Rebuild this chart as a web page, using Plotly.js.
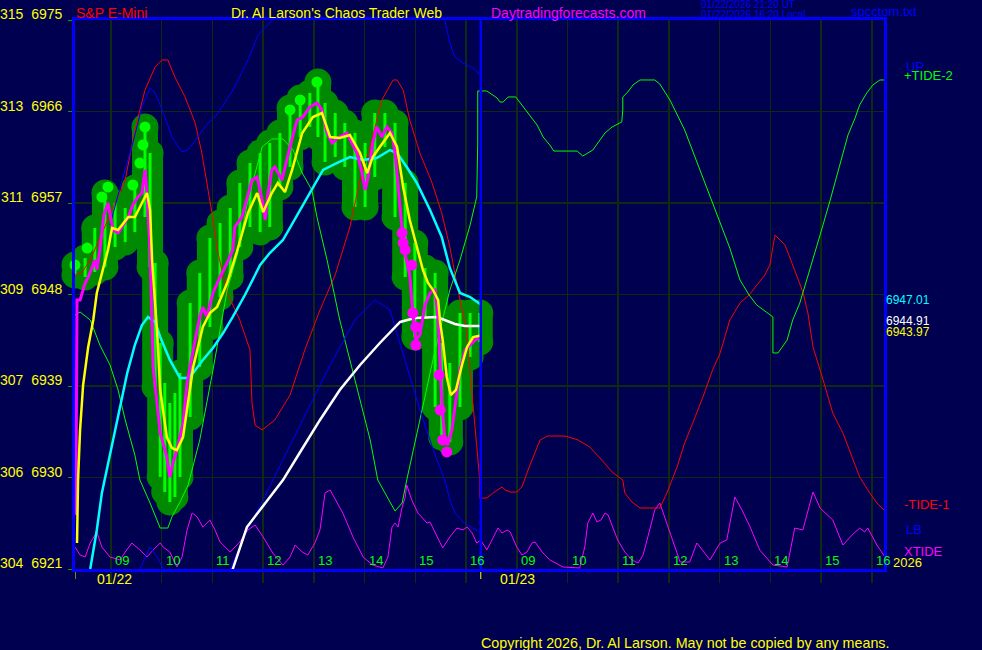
<!DOCTYPE html>
<html><head><meta charset="utf-8">
<script src="https://cdn.plot.ly/plotly-3.0.1.min.js"></script>
<style>html,body{margin:0;padding:0;background:#000050;}#chart{width:982px;height:650px;}</style>
</head><body><div id="chart"></div>
<script>
// ---------- axis data ----------
const hourTicks = [9,10,11,12,13,14,15,16,17,18,19,20,21,22,23,24];
const hourText  = ['09','10','11','12','13','14','15','16','09','10','11','12','13','14','15','16'];
const priceTicks = [6975,6966,6957,6948,6939,6930,6921];
const tideTicks  = ['315','313','311','309','307','306','304'];
const nowH = 16.29;
const dayStarts = [8.29, 16.29];
const dayLabels = ['01/22','01/23'];
const lastVals = ['6947.01','6944.91','6943.97'];

// ---------- price bars (blob) ----------
const barH  = [8.29,8.49,8.68,8.88,9.08,9.28,9.47,9.67,9.77,9.87,9.97,10.06,10.16,10.26,10.36,10.56,10.75,10.95,11.15,11.35,11.54,11.74,11.94,12.13,12.33,12.53,12.73,12.92,13.08,13.22,13.42,13.61,13.81,14.01,14.20,14.40,14.60,14.80,14.99,15.19,15.39,15.52,15.68,15.88,16.08,16.27];
const barHi = [6950.90,6951.59,6954.54,6957.98,6957.00,6956.51,6958.48,6964.48,6961.92,6951.10,6943.23,6939.30,6937.33,6938.31,6940.28,6947.16,6950.11,6953.56,6955.03,6956.51,6958.97,6960.93,6961.92,6962.90,6963.89,6966.34,6967.33,6967.82,6968.90,6966.84,6965.85,6964.87,6963.89,6962.90,6965.85,6965.85,6964.87,6958.97,6953.07,6950.61,6950.11,6943.23,6941.26,6946.18,6946.18,6946.18];
const barLo = [6949.92,6949.72,6950.21,6950.70,6952.67,6953.16,6954.15,6955.62,6950.70,6938.90,6930.05,6928.57,6927.59,6928.08,6930.05,6935.95,6940.87,6944.80,6947.75,6949.72,6952.67,6954.64,6954.15,6954.64,6958.57,6960.54,6963.49,6964.48,6963.49,6961.03,6961.52,6960.54,6956.61,6956.61,6959.56,6962.51,6955.62,6949.72,6943.82,6945.79,6936.93,6933.98,6933.49,6936.93,6941.85,6943.33];
const dotH = [8.29,8.53,8.82,8.94,9.43,9.57,9.63,9.67,12.53,12.73,13.06];
const dotP = [6950.90,6952.57,6957.59,6958.57,6958.77,6960.93,6962.71,6964.48,6966.15,6967.13,6968.90];

// ---------- price line (magenta) ----------
const priceH = [8.31,8.31,8.33,8.39,8.49,8.55,8.63,8.68,8.72,8.78,8.86,8.94,9.04,9.14,9.24,9.34,9.43,9.53,9.61,9.67,9.71,9.73,9.77,9.83,9.91,9.97,10.10,10.16,10.22,10.30,10.42,10.50,10.62,10.75,10.81,10.89,11.01,11.15,11.29,11.40,11.44,11.58,11.70,11.78,11.88,11.98,12.04,12.09,12.17,12.23,12.37,12.49,12.53,12.63,12.67,12.78,12.92,13.06,13.16,13.26,13.36,13.47,13.65,13.75,13.85,13.95,14.01,14.07,14.16,14.24,14.34,14.44,14.54,14.60,14.66,14.74,14.80,14.89,14.95,15.01,15.09,15.19,15.29,15.39,15.45,15.49,15.52,15.58,15.64,15.72,15.80,15.88,15.98,16.08,16.18,16.29];
const priceP = [6926.31,6929.75,6947.46,6947.46,6949.13,6949.72,6950.70,6951.39,6950.41,6952.38,6955.82,6957.00,6954.34,6954.05,6954.84,6955.62,6956.80,6957.59,6957.98,6960.25,6957.98,6956.02,6952.38,6940.87,6937.33,6934.38,6932.02,6930.05,6931.43,6932.70,6935.36,6939.30,6942.54,6945.79,6946.77,6945.79,6948.15,6949.72,6951.10,6952.38,6954.64,6955.62,6957.79,6959.26,6959.56,6957.30,6955.33,6957.79,6960.25,6960.54,6959.26,6961.52,6962.51,6964.48,6965.16,6965.46,6966.44,6966.84,6966.15,6963.89,6962.90,6963.39,6963.89,6962.90,6961.92,6959.95,6958.28,6959.56,6962.90,6964.48,6963.49,6964.48,6963.89,6961.92,6958.57,6954.34,6951.89,6949.92,6946.18,6943.52,6944.02,6946.97,6948.15,6948.44,6945.49,6941.56,6937.62,6933.69,6933.20,6934.67,6937.62,6940.57,6942.54,6943.03,6943.52,6943.82];
const bigDotH = [14.74,14.76,14.80,14.93,14.95,15.01,15.01,15.47,15.49,15.54,15.62];
const bigDotP = [6954.05,6953.07,6952.38,6950.90,6946.18,6944.80,6943.03,6940.08,6936.64,6933.69,6932.51];

// ---------- yellow average ----------
const yelH = [8.33,8.35,8.39,8.45,8.55,8.65,8.72,8.84,8.94,9.02,9.14,9.34,9.47,9.57,9.71,9.77,9.81,9.91,9.97,10.10,10.20,10.30,10.42,10.62,10.81,10.95,11.09,11.29,11.48,11.70,11.88,12.00,12.17,12.29,12.43,12.57,12.77,12.98,13.16,13.32,13.51,13.71,13.91,14.05,14.16,14.30,14.50,14.64,14.76,14.89,15.03,15.15,15.25,15.35,15.45,15.49,15.54,15.58,15.62,15.70,15.80,15.92,16.02,16.14,16.29];
const yelP = [6923.56,6929.75,6934.67,6939.10,6942.84,6945.49,6948.15,6950.41,6952.38,6954.54,6954.34,6955.62,6955.62,6956.61,6957.98,6956.31,6951.39,6944.21,6938.61,6933.98,6932.90,6932.70,6933.98,6940.87,6944.80,6946.18,6946.77,6949.13,6952.18,6956.02,6957.98,6956.11,6957.98,6958.97,6958.08,6960.25,6963.89,6965.46,6965.85,6963.49,6963.39,6963.69,6961.92,6959.95,6961.52,6962.51,6963.89,6962.51,6958.57,6955.33,6952.67,6950.41,6949.13,6948.44,6947.46,6945.20,6943.52,6941.56,6939.89,6938.11,6938.61,6941.07,6942.84,6943.82,6943.97];

// ---------- cyan average ----------
const cyanH = [8.59,8.72,8.82,8.98,9.18,9.32,9.47,9.61,9.73,9.87,9.97,10.16,10.36,10.50,10.62,10.81,11.01,11.21,11.40,11.64,11.94,12.13,12.39,12.73,12.98,13.18,13.45,13.71,13.97,14.24,14.50,14.64,14.83,15.03,15.29,15.52,15.68,15.88,16.08,16.29];
const cyanP = [6921.00,6924.84,6928.48,6932.21,6937.13,6940.28,6943.03,6945.00,6945.79,6945.30,6943.82,6941.56,6939.79,6939.79,6940.28,6941.56,6942.74,6944.21,6945.79,6947.95,6950.90,6952.08,6953.36,6956.31,6958.57,6960.25,6960.93,6961.52,6961.23,6961.43,6962.21,6961.92,6960.54,6958.97,6956.31,6953.66,6950.61,6948.15,6947.75,6947.01];

// ---------- white average ----------
const whiteH = [11.37,11.40,11.68,12.08,12.39,12.73,13.12,13.51,13.91,14.30,14.70,14.99,15.43,15.78,15.98,16.29];
const whiteP = [6920.41,6921.00,6925.13,6927.79,6929.75,6932.51,6935.66,6938.61,6941.07,6943.23,6945.30,6945.69,6945.79,6945.10,6944.90,6944.91];

// ---------- -TIDE-1 (red) ----------
const redH = [8.29,8.43,8.59,8.94,9.28,9.47,9.67,9.87,10.01,10.12,10.26,10.46,10.66,10.79,10.91,10.99,11.11,11.29,11.54,11.74,11.78,11.84,11.98,12.23,12.53,12.82,13.12,13.42,13.51,13.71,13.91,14.11,14.34,14.56,14.64,14.76,14.89,15.09,15.33,15.52,15.68,15.88,16.02,16.08,16.20,16.27,16.27,16.41,16.53,16.71,16.77,16.87,17.00,17.10,17.26,17.46,17.61,17.95,18.21,18.44,18.64,18.88,19.09,19.13,19.27,19.43,19.82,19.96,20.16,20.31,20.47,20.67,20.86,21.01,21.20,21.40,21.58,21.73,21.89,21.99,22.09,22.29,22.48,22.64,22.74,22.84,23.04,23.23,23.43,23.61,23.76,23.96,24.10,24.24];
const redP = [6949.92,6950.21,6951.39,6955.33,6959.26,6964.18,6968.11,6970.38,6971.07,6971.07,6969.39,6967.43,6964.87,6961.92,6958.57,6956.02,6952.08,6948.15,6945.49,6942.54,6937.33,6935.16,6934.67,6935.66,6938.11,6942.54,6946.48,6949.92,6951.39,6954.64,6959.26,6962.51,6967.13,6969.10,6969.10,6968.11,6965.16,6961.92,6958.97,6956.02,6952.67,6947.46,6944.21,6940.28,6933.69,6929.75,6927.98,6927.98,6928.48,6929.07,6928.77,6928.57,6928.57,6929.07,6931.23,6933.69,6934.08,6934.08,6933.69,6933.00,6931.92,6930.54,6929.75,6928.48,6927.59,6927.00,6927.00,6928.48,6931.03,6933.39,6935.36,6937.92,6940.57,6942.25,6945.49,6947.16,6947.95,6948.93,6949.92,6950.90,6953.85,6952.87,6950.41,6948.25,6946.18,6942.84,6939.59,6936.34,6934.38,6932.02,6930.05,6928.48,6927.49,6926.80];

// ---------- +TIDE-2 (green) ----------
const grnH = [8.29,8.39,8.59,8.78,8.98,9.14,9.28,9.47,9.57,9.77,9.97,10.12,10.20,10.36,10.52,10.75,11.01,11.29,11.50,11.70,11.98,12.17,12.39,12.59,12.77,12.96,13.06,13.26,13.51,13.81,14.11,14.26,14.60,14.74,14.83,15.09,15.39,15.68,15.88,16.08,16.21,16.23,16.23,16.41,16.61,16.67,16.73,16.83,16.98,17.10,17.22,17.40,17.52,17.65,17.73,18.19,18.30,18.50,18.64,18.74,18.88,19.07,19.09,19.09,19.19,19.29,19.43,19.72,19.82,20.02,20.31,20.61,20.91,21.20,21.40,21.58,21.73,21.99,22.05,22.05,22.15,22.33,22.44,22.58,22.72,22.98,23.18,23.37,23.53,23.67,23.76,23.90,24.02,24.16,24.24];
const grnP = [6945.98,6946.28,6945.49,6943.03,6941.07,6938.61,6935.66,6932.21,6929.75,6927.49,6925.03,6925.03,6926.11,6927.59,6929.26,6933.69,6940.57,6948.44,6952.08,6957.30,6962.51,6963.30,6963.30,6962.21,6959.95,6958.28,6955.62,6951.39,6945.49,6939.59,6933.69,6929.75,6926.70,6927.49,6929.75,6935.66,6942.54,6948.44,6951.39,6954.84,6957.59,6962.90,6968.02,6968.02,6967.33,6966.93,6966.93,6967.43,6967.43,6966.64,6965.85,6964.67,6963.49,6962.71,6962.11,6962.11,6961.62,6962.21,6963.20,6963.89,6964.48,6964.97,6966.15,6967.43,6967.92,6968.61,6969.10,6969.10,6968.70,6967.13,6964.18,6960.25,6956.31,6952.57,6949.43,6947.95,6946.97,6945.98,6945.79,6942.25,6942.25,6943.52,6945.49,6947.16,6949.43,6953.85,6957.30,6960.74,6963.69,6965.36,6966.64,6967.82,6968.61,6969.10,6969.10];

// ---------- LB (blue) segments ----------
const lbAH = [8.98,9.08,9.22,9.41,9.61,9.77,9.87,10.01,10.20,10.40,10.52,10.71,10.91,11.05,11.19,11.44,11.70,11.90,12.09,12.19,12.33];
const lbAP = [6954.84,6956.80,6959.26,6962.51,6966.44,6968.31,6967.82,6966.15,6963.49,6962.02,6962.21,6963.49,6964.87,6965.46,6966.44,6968.41,6971.07,6973.52,6974.51,6975.00,6975.79];
const lbBH = [15.49,15.58,15.68,15.78,15.94,16.14,16.29];
const lbBP = [6975.98,6975.00,6972.74,6971.36,6970.77,6970.28,6969.49];
const lbCH = [9.51,9.57,9.77,9.91,10.03,10.08];
const lbCP = [6920.41,6921.00,6923.16,6922.18,6921.00,6920.41];
const lbDH = [11.31,11.40,11.68,12.00,12.19,12.73,13.32,13.81,14.20,14.50,14.80,15.09,15.39,15.58,15.68,15.78,15.94,16.14,16.29];
const lbDP = [6920.41,6921.59,6924.84,6927.79,6929.75,6935.16,6941.07,6945.49,6947.46,6946.48,6941.56,6936.64,6932.21,6929.75,6927.79,6926.51,6925.62,6925.03,6924.54];

// ---------- XTIDE (magenta, bottom) ----------
const xtH = [8.29,8.39,8.49,8.59,8.72,8.82,8.98,9.18,9.28,9.41,9.57,9.71,9.83,9.97,10.03,10.16,10.30,10.40,10.50,10.60,10.70,10.81,10.95,11.05,11.15,11.35,11.54,11.70,11.84,12.00,12.19,12.39,12.53,12.63,12.77,12.88,13.02,13.12,13.22,13.32,13.57,13.77,13.97,14.16,14.36,14.46,14.54,14.60,14.66,14.74,14.80,14.83,14.93,15.05,15.23,15.29,15.49,15.54,15.68,15.82,15.94,16.02,16.12,16.21,16.29,16.41,16.53,16.63,16.71,16.81,16.87,17.00,17.10,17.20,17.30,17.36,17.50,17.65,17.91,18.24,18.34,18.40,18.50,18.58,18.66,18.74,18.80,18.88,18.99,19.13,19.27,19.39,19.49,19.62,19.72,19.82,19.92,20.02,20.22,20.41,20.55,20.81,21.01,21.14,21.30,21.44,21.60,21.79,22.05,22.33,22.48,22.64,22.84,22.98,23.23,23.43,23.61,23.76,23.86,23.92,24.10,24.26];
const xtP = [6923.16,6922.38,6922.18,6923.56,6924.64,6923.16,6922.18,6921.89,6922.67,6923.56,6922.87,6922.18,6922.87,6923.56,6923.16,6922.67,6921.20,6922.18,6924.84,6926.51,6926.11,6925.13,6925.82,6924.84,6923.66,6922.67,6923.66,6924.84,6925.33,6924.15,6922.57,6921.39,6922.18,6923.36,6922.67,6922.38,6923.56,6924.84,6928.48,6928.77,6926.51,6924.15,6922.18,6921.39,6921.10,6922.18,6925.13,6925.52,6925.13,6927.10,6928.08,6929.26,6927.79,6926.51,6925.52,6925.62,6923.56,6923.07,6924.15,6925.03,6924.84,6925.13,6924.54,6923.56,6923.85,6922.87,6924.05,6925.03,6924.54,6924.84,6924.64,6923.16,6922.38,6922.67,6923.56,6923.66,6922.67,6921.89,6921.20,6921.10,6923.16,6925.52,6926.51,6925.62,6925.82,6926.51,6926.31,6925.33,6923.85,6922.67,6921.89,6921.59,6922.38,6924.84,6926.80,6927.49,6926.02,6924.54,6921.69,6921.69,6923.56,6921.89,6923.56,6923.85,6928.08,6926.80,6925.13,6922.87,6921.39,6921.20,6925.03,6924.84,6928.57,6927.00,6925.82,6923.36,6924.34,6925.03,6924.64,6925.03,6923.36,6922.18];

// ---------- build ----------
function segs(xs, a, b) {
  const x = [], y = [];
  for (let i = 0; i < xs.length; i++) { x.push(xs[i], xs[i], null); y.push(a[i], b[i], null); }
  return {x, y};
}
const band = segs(barH, barHi, barLo);
const line = (x, y, color, width) => ({x, y, type:'scatter', mode:'lines', line:{color, width}, hoverinfo:'skip'});

const traces = [
  line(xtH, xtP, '#ff00ff', 1),
  {x: band.x, y: band.y, type:'scatter', mode:'lines', line:{color:'#008a00', width:26}, hoverinfo:'skip'},
  {x: barH.concat(barH), y: barHi.concat(barLo), type:'scatter', mode:'markers', cliponaxis:false, marker:{color:'#008a00', size:27, line:{width:0}}, hoverinfo:'skip'},
  {x: band.x, y: band.y, type:'scatter', mode:'lines', line:{color:'#00ff00', width:3}, hoverinfo:'skip'},
  {x: dotH, y: dotP, type:'scatter', mode:'markers', cliponaxis:false, marker:{color:'#00ff00', size:11, line:{width:0}}, hoverinfo:'skip'},
  line(redH, redP, '#ff0000', 1),
  line(grnH, grnP, '#00ff00', 1),
  line(lbAH, lbAP, '#0000ff', 1),
  line(lbBH, lbBP, '#0000ff', 1),
  line(lbCH, lbCP, '#0000ff', 1),
  line(lbDH, lbDP, '#0000ff', 1),
  line(whiteH, whiteP, '#ffffff', 2.5),
  line(cyanH, cyanP, '#00ffff', 2.5),
  line(priceH, priceP, '#ff00ff', 3),
  {x: bigDotH, y: bigDotP, type:'scatter', mode:'markers', marker:{color:'#ff00ff', size:11, line:{width:0}}, hoverinfo:'skip'},
  line(yelH, yelP, '#ffff00', 2.5)
];

const W = 982, H = 650, L = 75, R = 884, T = 20, B = 569;
const px = x => (x - L) / (R - L);
const py = y => (B - y) / (B - T);
const FONT = 'Liberation Sans, Arial, sans-serif';
function ann(text, x, y, color, size, xanchor) {
  return {text, x: px(x), y: py(y), xref:'paper', yref:'paper', showarrow:false,
          xanchor: xanchor || 'left', yanchor:'middle', font:{family:FONT, size, color}};
}
const annotations = [
  ann('S&amp;P E-Mini', 74, 13, '#ff0000', 14),
  ann("Dr. Al Larson's Chaos Trader Web", 229, 13, '#ffff00', 14),
  ann('Daytradingforecasts.com', 489, 13, '#ff00ff', 14),
  ann('01/22/2026 21:20 UT', 699, 5, '#0000ff', 10),
  ann('01/22/2026 16:20 Local', 699, 15, '#0000ff', 10),
  ann('spcctom.txt', 849, 12, '#0000ff', 13),
  ann('UP', 904, 67, '#0000ff', 13),
  ann('+TIDE-2', 902, 76, '#00ff00', 13),
  ann('-TIDE-1', 902, 505, '#ff0000', 13),
  ann('LB', 904, 529, '#0000ff', 13),
  ann('XTIDE', 902, 551, '#ff00ff', 13),
  ann(lastVals[0], 884, 300, '#00ffff', 12),
  ann(lastVals[1], 884, 321, '#ffffff', 12),
  ann(lastVals[2], 884, 332, '#ffff00', 12),
  ann('Copyright 2026, Dr. Al Larson. May not be copied by any means.', 479, 643, '#ffff00', 14.3)
];
priceTicks.forEach((v, i) => {
  annotations.push({text: tideTicks[i] + '\u00a0\u00a0' + v, x: 0, y: v, xref:'paper', yref:'y', xshift:-11,
    showarrow:false, xanchor:'right', yanchor:'bottom', yshift:-4, font:{family:FONT, size:14, color:'#ffff00'}});
});
hourTicks.forEach((h, i) => {
  annotations.push({text: hourText[i], x: h, y: 0, xref:'x', yref:'paper', xshift:11, yshift:-1,
    showarrow:false, xanchor:'center', yanchor:'bottom', font:{family:FONT, size:13, color:'#00ff00'}});
});
dayStarts.forEach((h, i) => {
  annotations.push({text: dayLabels[i], x: h, y: 0, xref:'x', yref:'paper', xshift: i === 0 ? 39 : 37, yshift:-10,
    showarrow:false, xanchor:'center', yanchor:'middle', font:{family:FONT, size:14, color:'#ffff00'}});
});
annotations.push(ann('2026', 891, 562, '#ffff00', 13));

const shapes = [
  {type:'line', xref:'x', yref:'paper', x0:nowH, x1:nowH, y0:0, y1:1, line:{color:'#0000ff', width:2.5}, layer:'above'}
];
dayStarts.forEach(h => shapes.push({type:'line', xref:'x', yref:'paper', x0:h, x1:h, y0:py(572), y1:py(579), line:{color:'#ffff00', width:1}}));

const layout = {
  width: W, height: H,
  margin: {l: L, r: W - R, t: T, b: H - B, pad: 0},
  paper_bgcolor: '#000050', plot_bgcolor: '#000050',
  showlegend: false, hovermode: false,
  xaxis: {range: [8.29, 24.24], tickvals: hourTicks, showticklabels: false, showgrid: true,
          gridcolor: '#0e2a12', gridwidth: 1.5, zeroline: false, ticks: 'outside', ticklen: 11,
          tickcolor: '#0e2a12', tickwidth: 1.5, showline: true, linecolor: '#0000ff', linewidth: 3, mirror: true, fixedrange: true},
  yaxis: {range: [6921, 6975], tickvals: priceTicks, showticklabels: false, showgrid: true,
          gridcolor: '#0e2a12', gridwidth: 1.5, zeroline: false, ticks: 'outside', ticklen: 4,
          tickcolor: '#00a000', showline: true, linecolor: '#0000ff', linewidth: 3, mirror: true, fixedrange: true},
  annotations, shapes
};
Plotly.newPlot('chart', traces, layout, {displayModeBar: false, staticPlot: true});
</script></body></html>
